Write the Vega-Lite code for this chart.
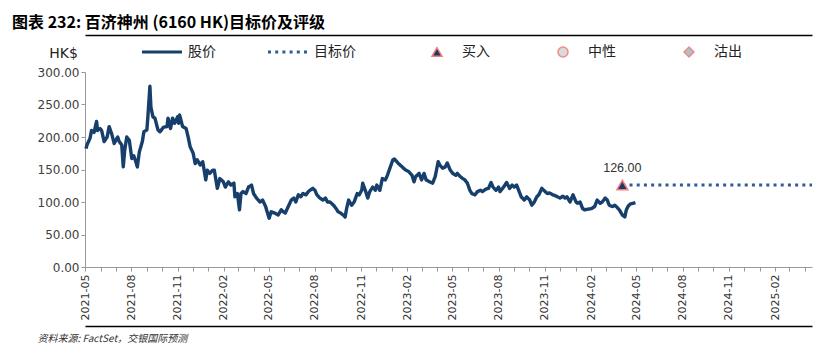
{
  "$schema": "https://vega.github.io/schema/vega-lite/v6.json",
  "width": 727,
  "height": 195,
  "autosize": {"type": "none"},
  "padding": {"left": 85, "top": 72, "right": 15, "bottom": 86},
  "background": "white",
  "title": {"text": "图表 232: 百济神州 (6160 HK)目标价及评级", "anchor": "start", "frame": "group", "dx": -73, "offset": 4, "font": "Noto Sans CJK SC", "fontSize": 16, "fontWeight": "bold", "color": "#000"},
  "config": {"view": {"stroke": null}, "axis": {"grid": false}},
  "datasets": {
    "price": [
      {"d":"2021-05-03","v":182},{"d":"2021-05-05","v":188},{"d":"2021-05-11","v":198},{"d":"2021-05-14","v":210},{"d":"2021-05-19","v":207},{"d":"2021-05-24","v":224},{"d":"2021-05-26","v":210},{"d":"2021-05-31","v":213},{"d":"2021-06-03","v":210},{"d":"2021-06-08","v":193},{"d":"2021-06-14","v":200},{"d":"2021-06-18","v":216},{"d":"2021-06-23","v":205},{"d":"2021-06-28","v":190},{"d":"2021-07-05","v":200},{"d":"2021-07-08","v":193},{"d":"2021-07-13","v":188},{"d":"2021-07-16","v":154},{"d":"2021-07-19","v":180},{"d":"2021-07-23","v":200},{"d":"2021-07-28","v":195},{"d":"2021-08-02","v":167},{"d":"2021-08-06","v":171},{"d":"2021-08-10","v":162},{"d":"2021-08-13","v":154},{"d":"2021-08-17","v":177},{"d":"2021-08-23","v":193},{"d":"2021-08-26","v":208},{"d":"2021-09-01","v":211},{"d":"2021-09-03","v":231},{"d":"2021-09-07","v":278},{"d":"2021-09-09","v":246},{"d":"2021-09-13","v":231},{"d":"2021-09-17","v":229},{"d":"2021-09-23","v":211},{"d":"2021-09-27","v":208},{"d":"2021-10-04","v":215},{"d":"2021-10-11","v":216},{"d":"2021-10-13","v":229},{"d":"2021-10-18","v":213},{"d":"2021-10-22","v":229},{"d":"2021-10-26","v":221},{"d":"2021-11-01","v":231},{"d":"2021-11-03","v":221},{"d":"2021-11-05","v":234},{"d":"2021-11-11","v":216},{"d":"2021-11-18","v":213},{"d":"2021-11-22","v":200},{"d":"2021-11-26","v":185},{"d":"2021-12-02","v":175},{"d":"2021-12-06","v":159},{"d":"2021-12-10","v":165},{"d":"2021-12-16","v":157},{"d":"2021-12-21","v":162},{"d":"2021-12-27","v":134},{"d":"2021-12-30","v":149},{"d":"2022-01-04","v":144},{"d":"2022-01-10","v":149},{"d":"2022-01-13","v":149},{"d":"2022-01-19","v":121},
      {"d":"2022-01-24","v":136},{"d":"2022-01-31","v":131},{"d":"2022-02-04","v":123},{"d":"2022-02-10","v":131},{"d":"2022-02-15","v":126},{"d":"2022-02-21","v":129},{"d":"2022-02-23","v":108},{"d":"2022-02-28","v":113},{"d":"2022-03-04","v":88},{"d":"2022-03-07","v":113},{"d":"2022-03-11","v":116},{"d":"2022-03-17","v":113},{"d":"2022-03-22","v":123},{"d":"2022-03-28","v":126},{"d":"2022-04-01","v":113},{"d":"2022-04-07","v":106},{"d":"2022-04-14","v":100},{"d":"2022-04-19","v":103},{"d":"2022-04-25","v":93},{"d":"2022-04-28","v":85},{"d":"2022-05-02","v":75},{"d":"2022-05-06","v":85},{"d":"2022-05-13","v":83},{"d":"2022-05-20","v":80},{"d":"2022-05-26","v":88},{"d":"2022-05-30","v":85},{"d":"2022-06-03","v":83},{"d":"2022-06-09","v":93},{"d":"2022-06-15","v":103},{"d":"2022-06-20","v":106},{"d":"2022-06-24","v":100},{"d":"2022-06-29","v":111},{"d":"2022-07-04","v":108},{"d":"2022-07-08","v":113},{"d":"2022-07-14","v":111},{"d":"2022-07-19","v":116},{"d":"2022-07-22","v":118},{"d":"2022-07-28","v":121},{"d":"2022-08-01","v":118},{"d":"2022-08-05","v":111},{"d":"2022-08-11","v":106},{"d":"2022-08-17","v":103},{"d":"2022-08-22","v":106},{"d":"2022-08-26","v":100},{"d":"2022-08-31","v":100},{"d":"2022-09-07","v":95},{"d":"2022-09-12","v":90},{"d":"2022-09-16","v":85},{"d":"2022-09-21","v":83},{"d":"2022-09-26","v":80},{"d":"2022-09-30","v":77},{"d":"2022-10-03","v":90},{"d":"2022-10-07","v":103},{"d":"2022-10-13","v":95},{"d":"2022-10-18","v":100},{"d":"2022-10-24","v":113},{"d":"2022-10-28","v":111},{"d":"2022-11-02","v":118},{"d":"2022-11-04","v":129},{"d":"2022-11-10","v":116},{"d":"2022-11-14","v":106},{"d":"2022-11-18","v":116},{"d":"2022-11-24","v":123},{"d":"2022-11-29","v":118},{"d":"2022-12-02","v":126},{"d":"2022-12-08","v":118},{"d":"2022-12-13","v":136},{"d":"2022-12-19","v":134},{"d":"2022-12-23","v":141},{"d":"2022-12-28","v":152},
      {"d":"2023-01-03","v":165},{"d":"2023-01-06","v":166},{"d":"2023-01-13","v":160},{"d":"2023-01-20","v":155},{"d":"2023-01-27","v":150},{"d":"2023-02-03","v":147},{"d":"2023-02-10","v":141},{"d":"2023-02-14","v":131},{"d":"2023-02-17","v":139},{"d":"2023-02-24","v":144},{"d":"2023-03-01","v":134},{"d":"2023-03-06","v":144},{"d":"2023-03-10","v":134},{"d":"2023-03-17","v":131},{"d":"2023-03-23","v":129},{"d":"2023-03-28","v":139},{"d":"2023-04-03","v":162},{"d":"2023-04-06","v":157},{"d":"2023-04-12","v":152},{"d":"2023-04-17","v":154},{"d":"2023-04-21","v":160},{"d":"2023-04-27","v":149},{"d":"2023-05-02","v":144},{"d":"2023-05-08","v":141},{"d":"2023-05-11","v":144},{"d":"2023-05-17","v":139},{"d":"2023-05-22","v":136},{"d":"2023-05-26","v":134},{"d":"2023-05-31","v":129},{"d":"2023-06-05","v":118},{"d":"2023-06-09","v":113},{"d":"2023-06-15","v":111},{"d":"2023-06-20","v":116},{"d":"2023-06-26","v":118},{"d":"2023-06-30","v":116},{"d":"2023-07-07","v":120},{"d":"2023-07-12","v":121},{"d":"2023-07-17","v":130},{"d":"2023-07-21","v":123},{"d":"2023-07-27","v":118},{"d":"2023-08-01","v":123},{"d":"2023-08-04","v":116},{"d":"2023-08-11","v":123},{"d":"2023-08-17","v":130},{"d":"2023-08-23","v":121},{"d":"2023-08-28","v":126},{"d":"2023-09-01","v":123},{"d":"2023-09-06","v":126},{"d":"2023-09-11","v":116},{"d":"2023-09-15","v":108},{"d":"2023-09-21","v":103},{"d":"2023-09-26","v":108},{"d":"2023-10-02","v":103},{"d":"2023-10-06","v":95},{"d":"2023-10-11","v":100},{"d":"2023-10-16","v":108},{"d":"2023-10-20","v":111},{"d":"2023-10-26","v":121},{"d":"2023-10-30","v":118},{"d":"2023-11-06","v":113},{"d":"2023-11-10","v":114},{"d":"2023-11-17","v":111},{"d":"2023-11-24","v":109},{"d":"2023-12-01","v":106},{"d":"2023-12-07","v":109},{"d":"2023-12-11","v":106},{"d":"2023-12-15","v":108},{"d":"2023-12-21","v":100},{"d":"2023-12-27","v":111},
      {"d":"2024-01-02","v":100},{"d":"2024-01-05","v":98},{"d":"2024-01-10","v":100},{"d":"2024-01-15","v":90},{"d":"2024-01-19","v":88},{"d":"2024-01-26","v":89},{"d":"2024-02-02","v":90},{"d":"2024-02-08","v":93},{"d":"2024-02-13","v":103},{"d":"2024-02-19","v":98},{"d":"2024-02-23","v":100},{"d":"2024-02-29","v":106},{"d":"2024-03-04","v":103},{"d":"2024-03-08","v":95},{"d":"2024-03-14","v":93},{"d":"2024-03-19","v":95},{"d":"2024-03-22","v":93},{"d":"2024-03-28","v":88},{"d":"2024-04-03","v":80},{"d":"2024-04-08","v":77},{"d":"2024-04-11","v":88},{"d":"2024-04-15","v":94},{"d":"2024-04-19","v":97},{"d":"2024-04-24","v":98},{"d":"2024-04-29","v":99}
    ],
    "target": [{"d":"2024-04-03","v":126},{"d":"2025-04-15","v":126}],
    "rating": [{"d":"2024-04-03","v":126,"r":"买入"}]
  },
  "encoding": {
    "y": {"field": "v", "type": "quantitative", "scale": {"domain": [0, 300], "nice": false},
      "axis": {"values": [0, 50, 100, 150, 200, 250, 300], "format": ".2f", "labelFont": "DejaVu Sans", "labelFontSize": 12, "labelColor": "#404040", "tickSize": 4, "tickColor": "#999", "domainColor": "#999", "labelPadding": 2,
        "title": "HK$", "titleAngle": 0, "titleAlign": "center", "titleBaseline": "alphabetic", "titleX": -22, "titleY": -15, "titleFont": "DejaVu Sans", "titleFontSize": 14, "titleFontWeight": "normal", "titleColor": "#222"}}
  },
  "layer": [
    {
      "data": {"name": "price"},
      "mark": {"type": "line", "strokeWidth": 3.4, "strokeJoin": "round"},
      "encoding": {
        "x": {"field": "d", "type": "temporal",
          "scale": {"domain": [{"year": 2021, "month": 5, "date": 1}, {"year": 2025, "month": 4, "date": 15}], "nice": false},
          "axis": {
            "values": [
              {"year":2021,"month":5,"date":1},{"year":2021,"month":6,"date":1},{"year":2021,"month":7,"date":1},{"year":2021,"month":8,"date":1},{"year":2021,"month":9,"date":1},{"year":2021,"month":10,"date":1},{"year":2021,"month":11,"date":1},{"year":2021,"month":12,"date":1},
              {"year":2022,"month":1,"date":1},{"year":2022,"month":2,"date":1},{"year":2022,"month":3,"date":1},{"year":2022,"month":4,"date":1},{"year":2022,"month":5,"date":1},{"year":2022,"month":6,"date":1},{"year":2022,"month":7,"date":1},{"year":2022,"month":8,"date":1},{"year":2022,"month":9,"date":1},{"year":2022,"month":10,"date":1},{"year":2022,"month":11,"date":1},{"year":2022,"month":12,"date":1},
              {"year":2023,"month":1,"date":1},{"year":2023,"month":2,"date":1},{"year":2023,"month":3,"date":1},{"year":2023,"month":4,"date":1},{"year":2023,"month":5,"date":1},{"year":2023,"month":6,"date":1},{"year":2023,"month":7,"date":1},{"year":2023,"month":8,"date":1},{"year":2023,"month":9,"date":1},{"year":2023,"month":10,"date":1},{"year":2023,"month":11,"date":1},{"year":2023,"month":12,"date":1},
              {"year":2024,"month":1,"date":1},{"year":2024,"month":2,"date":1},{"year":2024,"month":3,"date":1},{"year":2024,"month":4,"date":1},{"year":2024,"month":5,"date":1},{"year":2024,"month":6,"date":1},{"year":2024,"month":7,"date":1},{"year":2024,"month":8,"date":1},{"year":2024,"month":9,"date":1},{"year":2024,"month":10,"date":1},{"year":2024,"month":11,"date":1},{"year":2024,"month":12,"date":1},
              {"year":2025,"month":1,"date":1},{"year":2025,"month":2,"date":1},{"year":2025,"month":3,"date":1},{"year":2025,"month":4,"date":1}
            ],
            "labelExpr": "month(datum.value) % 3 == 1 ? timeFormat(datum.value, '%Y-%m') : ''",
            "labelAngle": 270, "labelFont": "DejaVu Sans", "labelFontSize": 11, "labelColor": "#333", "labelPadding": 3,
            "labelOverlap": false, "labelBound": false, "labelFlush": false,
            "tickSize": 4, "tickColor": "#999", "domainColor": "#999",
            "title": "资料来源: FactSet，交银国际预测", "titleFont": "Noto Sans CJK SC", "titleFontSize": 10, "titleFontStyle": "italic", "titleFontWeight": "normal", "titleColor": "#333",
            "titleAnchor": null, "titleAlign": "left", "titleBaseline": "alphabetic", "titleX": -48, "titleY": 74
          }
        },
        "color": {
          "datum": "股价",
          "scale": {"domain": ["股价", "目标价"], "range": ["#173f6b", "#2f5b9a"]},
          "legend": {
            "title": null, "orient": "none", "legendX": 55.5, "legendY": -28, "direction": "horizontal", "columns": 2,
            "gridAlign": "each", "columnPadding": 50, "clipHeight": 16, "symbolOffset": 0, "labelOffset": 4.5, "padding": 0,
            "symbolType": "stroke", "symbolSize": 1600, "symbolStrokeWidth": 3,
            "labelFont": "Noto Sans CJK SC", "labelFontSize": 14, "labelColor": "#222", "labelLimit": 200
          }
        },
        "strokeDash": {
          "datum": "股价",
          "scale": {"domain": ["股价", "目标价"], "range": [[1, 0], [3, 4.2]]},
          "legend": {
            "title": null, "orient": "none", "legendX": 55.5, "legendY": -28, "direction": "horizontal", "columns": 2,
            "gridAlign": "each", "columnPadding": 50, "clipHeight": 16, "symbolOffset": 0, "labelOffset": 4.5, "padding": 0,
            "symbolType": "stroke", "symbolSize": 1600, "symbolStrokeWidth": 3,
            "labelFont": "Noto Sans CJK SC", "labelFontSize": 14, "labelColor": "#222", "labelLimit": 200
          }
        }
      }
    },
    {
      "data": {"name": "target"},
      "mark": {"type": "line", "strokeWidth": 3},
      "encoding": {
        "x": {"field": "d", "type": "temporal",
          "axis": {"orient": "top", "offset": 37, "domainColor": "#000", "domainWidth": 1.6, "ticks": false, "labels": false, "title": null}},
        "color": {"datum": "目标价"},
        "strokeDash": {"datum": "目标价"}
      }
    },
    {
      "data": {"name": "rating"},
      "mark": {"type": "point", "filled": true, "size": 120, "strokeWidth": 1.5, "opacity": 1},
      "encoding": {
        "x": {"field": "d", "type": "temporal",
          "axis": {"orient": "bottom", "offset": 59, "domainColor": "#000", "domainWidth": 1.6, "ticks": false, "labels": false, "title": null}},
        "shape": {
          "field": "r", "type": "nominal",
          "scale": {"domain": ["买入", "中性", "沽出"], "range": ["triangle-up", "circle", "diamond"]},
          "legend": {
            "title": null, "orient": "none", "legendX": 345, "legendY": -28, "direction": "horizontal", "columns": 3,
            "gridAlign": "each", "columnPadding": 66, "clipHeight": 16, "symbolOffset": 0, "labelOffset": 18, "padding": 0,
            "symbolSize": 100, "symbolStrokeWidth": 1.5,
            "labelFont": "Noto Sans CJK SC", "labelFontSize": 14, "labelColor": "#222", "labelLimit": 200
          }
        },
        "fill": {
          "field": "r", "type": "nominal",
          "scale": {"domain": ["买入", "中性", "沽出"], "range": ["#1f3864", "#dadada", "#a8c4ca"]},
          "legend": {
            "title": null, "orient": "none", "legendX": 345, "legendY": -28, "direction": "horizontal", "columns": 3,
            "gridAlign": "each", "columnPadding": 66, "clipHeight": 16, "symbolOffset": 0, "labelOffset": 18, "padding": 0,
            "symbolSize": 100, "symbolStrokeWidth": 1.5,
            "labelFont": "Noto Sans CJK SC", "labelFontSize": 14, "labelColor": "#222", "labelLimit": 200
          }
        },
        "stroke": {
          "field": "r", "type": "nominal",
          "scale": {"domain": ["买入", "中性", "沽出"], "range": ["#f08080", "#f08a8a", "#f08a8a"]},
          "legend": {
            "title": null, "orient": "none", "legendX": 345, "legendY": -28, "direction": "horizontal", "columns": 3,
            "gridAlign": "each", "columnPadding": 66, "clipHeight": 16, "symbolOffset": 0, "labelOffset": 18, "padding": 0,
            "symbolSize": 100, "symbolStrokeWidth": 1.5,
            "labelFont": "Noto Sans CJK SC", "labelFontSize": 14, "labelColor": "#222", "labelLimit": 200
          }
        }
      }
    },
    {
      "data": {"name": "rating"},
      "mark": {"type": "text", "dy": -13, "baseline": "alphabetic", "font": "Liberation Sans", "fontSize": 12.5, "color": "#333"},
      "encoding": {
        "x": {"field": "d", "type": "temporal", "axis": null},
        "text": {"field": "v", "type": "quantitative", "format": ".2f"}
      }
    }
  ],
  "resolve": {"axis": {"x": "independent"}}
}
